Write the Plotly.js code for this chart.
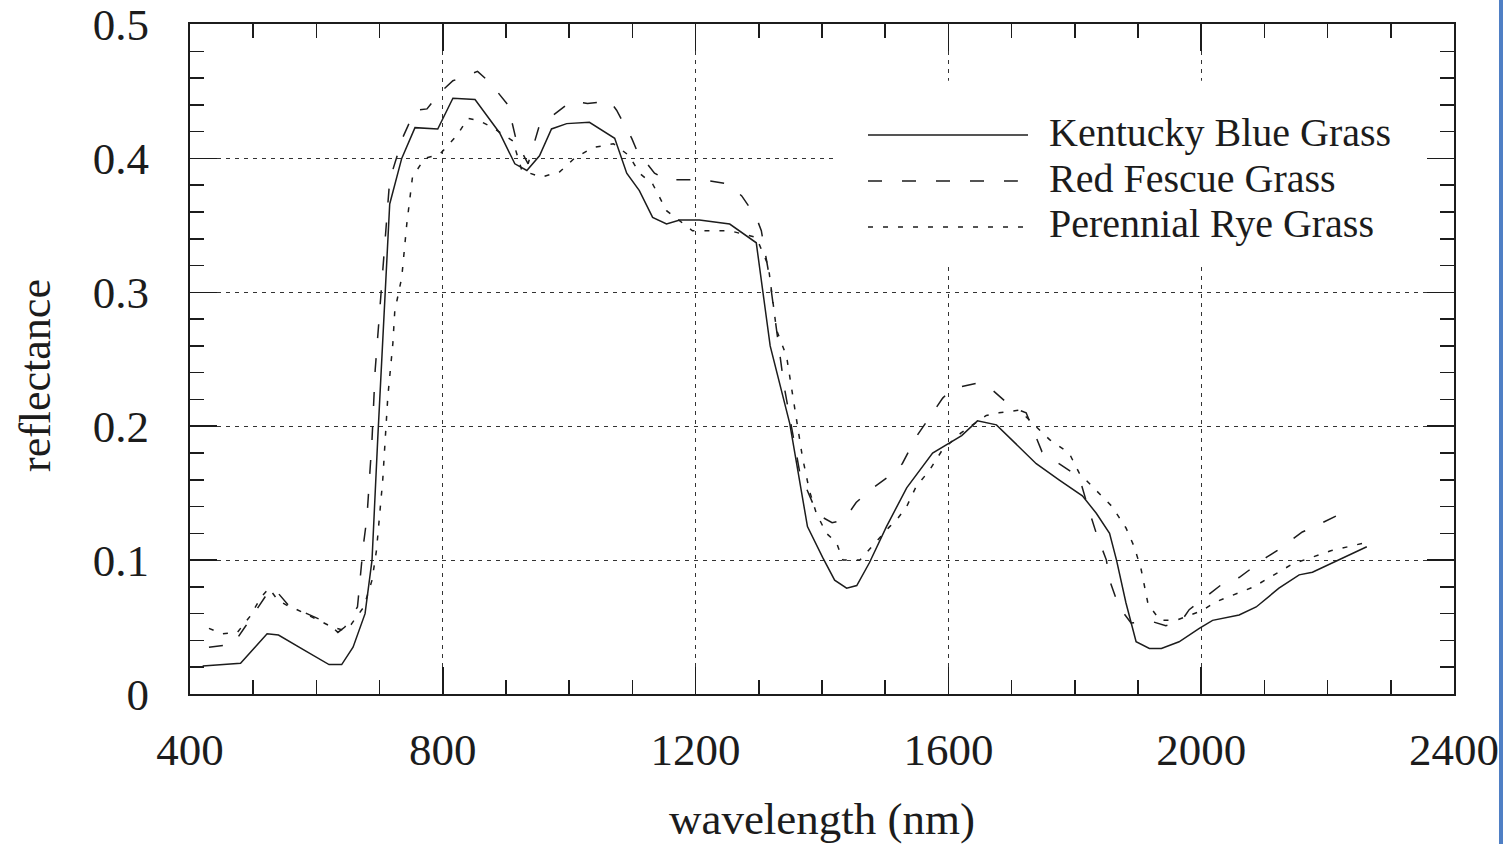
<!DOCTYPE html>
<html>
<head>
<meta charset="utf-8">
<script src="https://cdn.plot.ly/plotly-3.0.1.min.js"></script>
<style>
  html, body { margin: 0; padding: 0; background: #ffffff; }
  #chart { width: 1503px; height: 844px; }
</style>
</head>
<body>
<div id="chart"></div>
<script>
// ---- data ----
const seriesNames = ["Kentucky Blue Grass", "Red Fescue Grass", "Perennial Rye Grass"];

const kentuckyWavelength = [420,480,522,540,580,620,640,658,677,688,697,705,716,735,756,792,816,851,890,914,933,953,972,996,1032,1072,1091,1111,1132,1154,1175,1206,1254,1296,1318,1349,1369,1377,1401,1420,1439,1455,1475,1502,1534,1575,1621,1646,1676,1707,1739,1775,1812,1834,1855,1866,1881,1897,1918,1937,1965,1997,2018,2060,2087,2123,2155,2176,2207,2239,2262];
const kentuckyReflectance = [0.021,0.023,0.045,0.044,0.033,0.022,0.022,0.035,0.060,0.100,0.190,0.264,0.366,0.400,0.423,0.422,0.445,0.444,0.419,0.396,0.391,0.402,0.422,0.426,0.427,0.415,0.389,0.376,0.356,0.351,0.354,0.354,0.351,0.337,0.260,0.202,0.145,0.125,0.102,0.085,0.079,0.081,0.098,0.125,0.154,0.180,0.193,0.204,0.201,0.187,0.172,0.160,0.148,0.135,0.120,0.100,0.068,0.039,0.034,0.034,0.039,0.049,0.055,0.059,0.065,0.079,0.089,0.091,0.098,0.105,0.110];

const fescueWavelength = [430,468,487,514,528,540,558,585,618,634,645,665,674,680,688,693,698,716,737,756,775,795,816,855,874,903,917,935,953,974,1004,1029,1064,1075,1099,1107,1135,1154,1190,1211,1251,1273,1296,1304,1317,1340,1365,1393,1416,1435,1454,1475,1507,1527,1549,1565,1591,1606,1644,1665,1701,1723,1748,1775,1807,1820,1834,1850,1855,1870,1889,1923,1944,1968,1981,2000,2041,2060,2103,2120,2160,2179,2218,2239];
const fescueReflectance = [0.035,0.037,0.050,0.069,0.079,0.075,0.065,0.060,0.053,0.046,0.050,0.065,0.110,0.132,0.190,0.242,0.272,0.384,0.416,0.436,0.437,0.449,0.458,0.465,0.457,0.440,0.412,0.396,0.425,0.432,0.443,0.441,0.443,0.436,0.415,0.406,0.389,0.384,0.384,0.384,0.381,0.372,0.356,0.346,0.311,0.230,0.165,0.134,0.128,0.130,0.143,0.152,0.163,0.172,0.192,0.203,0.221,0.228,0.232,0.229,0.214,0.210,0.181,0.172,0.162,0.141,0.120,0.100,0.085,0.065,0.053,0.054,0.051,0.054,0.063,0.070,0.085,0.087,0.102,0.107,0.121,0.125,0.134,0.134];

const ryeWavelength = [430,451,475,495,512,525,539,558,565,590,605,625,640,655,675,688,695,705,713,721,724,735,743,752,771,795,822,840,858,879,911,925,956,985,1008,1037,1070,1095,1111,1132,1154,1195,1254,1296,1315,1328,1344,1360,1369,1380,1391,1407,1423,1433,1460,1507,1518,1534,1549,1570,1590,1620,1660,1680,1712,1760,1791,1807,1838,1859,1881,1894,1905,1916,1935,1960,2000,2024,2083,2144,2205,2260];
const ryeReflectance = [0.049,0.045,0.046,0.058,0.072,0.079,0.070,0.065,0.064,0.058,0.055,0.050,0.048,0.052,0.065,0.085,0.107,0.160,0.222,0.262,0.286,0.311,0.351,0.386,0.400,0.403,0.417,0.430,0.428,0.423,0.413,0.391,0.386,0.390,0.400,0.408,0.411,0.402,0.389,0.381,0.361,0.346,0.346,0.341,0.320,0.272,0.252,0.202,0.177,0.152,0.135,0.120,0.113,0.100,0.100,0.125,0.130,0.140,0.155,0.167,0.182,0.195,0.208,0.210,0.212,0.190,0.180,0.165,0.150,0.140,0.124,0.110,0.093,0.067,0.055,0.055,0.062,0.069,0.080,0.097,0.107,0.113];

const xTickValues = [400, 800, 1200, 1600, 2000, 2400];
const yTickValues = [0, 0.1, 0.2, 0.3, 0.4, 0.5];
const yTickLabels = ["0", "0.1", "0.2", "0.3", "0.4", "0.5"];
const xAxisTitle = "wavelength (nm)";
const yAxisTitle = "reflectance";

// ---- styles ----
const FONT = '"Liberation Serif", "Times New Roman", Times, serif';
const INK = '#1c1c1c';
const dashStyles = ['solid', '14px,20px', '5px,10px'];

const traces = [
  {x: kentuckyWavelength, y: kentuckyReflectance, name: seriesNames[0]},
  {x: fescueWavelength, y: fescueReflectance, name: seriesNames[1]},
  {x: ryeWavelength, y: ryeReflectance, name: seriesNames[2]}
].map((t, i) => Object.assign(t, {
  type: 'scatter', mode: 'lines',
  line: {color: INK, width: 1.5, dash: dashStyles[i]},
  hoverinfo: 'skip', showlegend: false
}));

// custom legend (long line samples like the original)
// rows centred at about y = 132, 178, 224 px
const legendRowsY = [0.8343, 0.7657, 0.6970];
const legendTextY = [0.8388, 0.7701, 0.7015];
const shapes = [
  // white box behind the legend hides the grid there
  {type: 'rect', xref: 'x', yref: 'y', x0: 1420, x1: 2375, y0: 0.32, y1: 0.458,
   fillcolor: '#ffffff', line: {width: 0}, layer: 'between'},
  // scanner edge strip on the right
  {type: 'rect', xref: 'paper', yref: 'paper', x0: 1.0356, x1: 1.0400, y0: -0.25, y1: 1.05,
   fillcolor: '#4f7fc4', line: {width: 0}, layer: 'above'}
];
const annotations = [];
seriesNames.forEach((name, i) => {
  shapes.push({type: 'line', xref: 'paper', yref: 'paper',
    x0: 0.5364, x1: 0.663, y0: legendRowsY[i], y1: legendRowsY[i],
    line: {color: INK, width: 1.3, dash: dashStyles[i]}, layer: 'above'});
  annotations.push({xref: 'paper', yref: 'paper', x: 0.678, y: legendTextY[i],
    xanchor: 'left', yanchor: 'middle', showarrow: false, text: name,
    font: {family: FONT, size: 40, color: INK}});
});
annotations.push({xref: 'paper', yref: 'paper', x: 0, y: 0.4746, xshift: -155,
  xanchor: 'center', yanchor: 'middle', textangle: -90, showarrow: false,
  text: yAxisTitle, font: {family: FONT, size: 44, color: INK}});

const layout = {
  width: 1503, height: 844,
  paper_bgcolor: '#ffffff', plot_bgcolor: '#ffffff',
  margin: {l: 190, r: 49, t: 24, b: 150},
  showlegend: false,
  hovermode: false,
  xaxis: {
    range: [400, 2400], tickmode: 'array', tickvals: xTickValues,
    ticks: 'inside', ticklen: 27, tickwidth: 1.5, tickcolor: INK,
    minor: {dtick: 100, tick0: 400, ticks: 'inside', ticklen: 14, tickwidth: 1.5, tickcolor: INK, showgrid: false},
    showline: true, linecolor: INK, linewidth: 2, mirror: 'ticks',
    showgrid: true, gridcolor: '#333333', gridwidth: 1.2, griddash: '4px,5px',
    zeroline: false,
    tickfont: {family: FONT, size: 45, color: INK},
    ticklabelstandoff: 15,
    title: {text: xAxisTitle, font: {family: FONT, size: 45, color: INK}, standoff: 30}
  },
  yaxis: {
    range: [0, 0.5004], tickmode: 'array', tickvals: yTickValues, ticktext: yTickLabels,
    ticks: 'inside', ticklen: 27, tickwidth: 1.5, tickcolor: INK,
    minor: {dtick: 0.02, tick0: 0, ticks: 'inside', ticklen: 14, tickwidth: 1.5, tickcolor: INK, showgrid: false},
    showline: true, linecolor: INK, linewidth: 2, mirror: 'ticks',
    showgrid: true, gridcolor: '#333333', gridwidth: 1.2, griddash: '4px,5px',
    zeroline: false,
    tickfont: {family: FONT, size: 45, color: INK},
    ticklabeloverflow: 'allow',
    ticklabelstandoff: 30
  },
  shapes: shapes,
  annotations: annotations
};

Plotly.newPlot('chart', traces, layout, {displayModeBar: false, staticPlot: true});
</script>
</body>
</html>
